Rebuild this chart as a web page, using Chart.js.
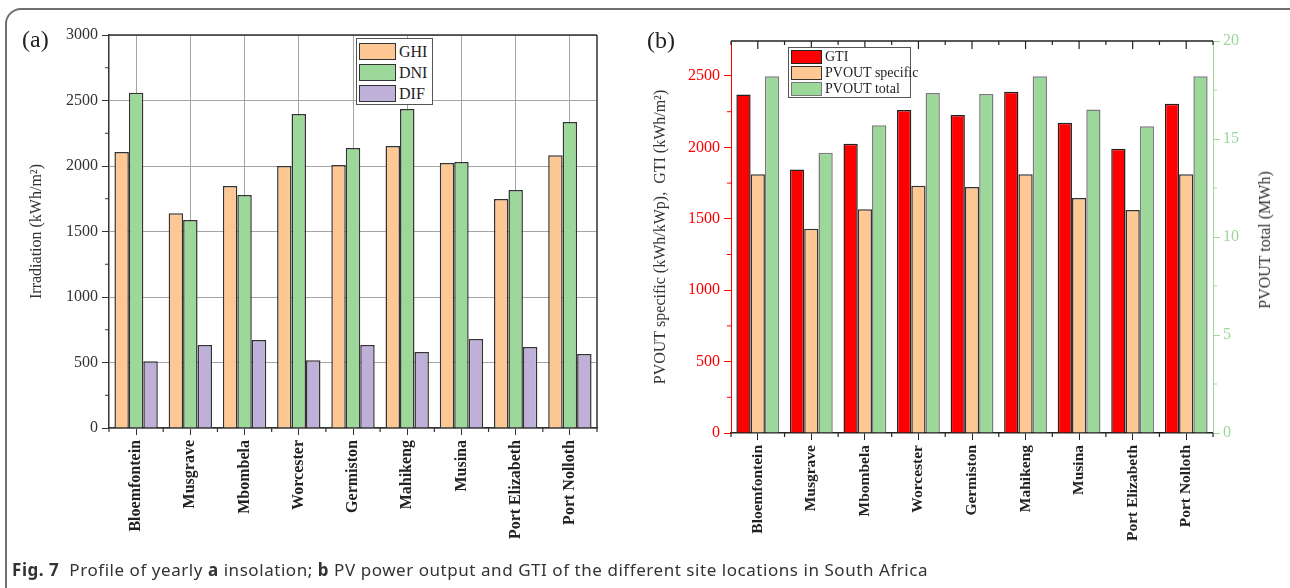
<!DOCTYPE html>
<html lang="en">
<head>
<meta charset="UTF-8">
<title>Fig. 7 - yearly insolation and PV output</title>
<style>
  body { margin:0; background:#fff; width:1290px; height:588px; overflow:hidden; position:relative; font-family:"Liberation Serif", serif; }
  .box { position:absolute; left:5px; top:8px; width:1300px; height:620px; border:2px solid #6f6f6f; border-radius:16px; }
  canvas { position:absolute; top:0; }
  #chartA { left:0; }
  #chartB { left:640px; }
  .panel { position:absolute; font-size:24px; color:#222; line-height:1; }
  .legend { position:absolute; background:#fff; border:1.5px solid #555; color:#222; box-sizing:border-box; white-space:nowrap; }
  .legend .row { display:flex; align-items:center; }
  .legend .sw { display:inline-block; flex:none; box-sizing:border-box; border:1.5px solid #333; margin:0 3px 0 2px; }
  .rtitle { position:absolute; left:1265px; top:240px; transform:translate(-50%,-50%) rotate(-90deg); white-space:nowrap; font-size:16px; color:#333; }
  .caption { position:absolute; left:12px; top:558px; font-family:"Noto Sans", sans-serif; font-size:17px; letter-spacing:0.55px; color:#333; white-space:nowrap; }
</style>
</head>
<body>
<div class="box"></div>
<canvas id="chartA" width="640" height="560"></canvas>
<canvas id="chartB" width="650" height="560"></canvas>
<div class="panel" style="left:22px; top:27px;">(a)</div>
<div class="panel" style="left:647px; top:28px;">(b)</div>
<div class="legend" id="legendA" style="left:356px; top:38px; width:77px; height:67px; padding-top:2px; font-size:16px; line-height:21px;"></div>
<div class="legend" id="legendB" style="left:788px; top:47px; width:123px; height:51px; padding-top:1px; font-size:14px; line-height:16px;"></div>
<div class="rtitle">PVOUT total (MWh)</div>
<div class="caption"><b>Fig. 7</b>&nbsp; Profile of yearly <b>a</b> insolation; <b>b</b> PV power output and GTI of the different site locations in South Africa</div>

<script src="https://cdn.jsdelivr.net/npm/chart.js"></script>
<script>
  // site names on both x axes
  const sites = ['Bloemfontein', 'Musgrave', 'Mbombela', 'Worcester', 'Germiston', 'Mahikeng', 'Musina', 'Port Elizabeth', 'Port Nolloth'];

  // (a) yearly irradiation, kWh/m2
  const ghi = [2107, 1640, 1847, 2000, 2007, 2152, 2022, 1748, 2083];
  const dni = [2560, 1588, 1779, 2397, 2137, 2435, 2031, 1817, 2336];
  const dif = [510, 634, 672, 518, 634, 580, 679, 618, 565];

  // (b) GTI and PV output
  const gti = [2370, 1845, 2025, 2262, 2226, 2390, 2173, 1990, 2305];
  const pvSpecific = [1812, 1430, 1566, 1732, 1722, 1812, 1645, 1562, 1812];
  const pvTotal = [18.2, 14.3, 15.7, 17.35, 17.3, 18.2, 16.5, 15.65, 18.2];

  // left axis of (b) stops at 2745 so that it lines up with 20 MWh on the right
  const bLeftTicks = [0, 500, 1000, 1500, 2000, 2500];

  const peach = '#fdc894', green = '#9dd89b', lilac = '#bfb0da', red = '#ff0000';
  const serif = '"Liberation Serif", serif';

  Chart.defaults.font.family = serif;
  Chart.defaults.font.size = 16;

  // top/right frame + minor ticks
  const frameLines = {
    id: 'frameLines',
    afterDatasetsDraw(chart, args, opts) {
      const { ctx, chartArea: a } = chart;
      ctx.save();
      ctx.lineWidth = 1.5;
      ctx.strokeStyle = opts.color;
      ctx.beginPath();
      ctx.moveTo(a.left, a.top); ctx.lineTo(a.right, a.top);
      if (opts.right) { ctx.moveTo(a.right, a.top); ctx.lineTo(a.right, a.bottom); }
      ctx.stroke();

      const x = chart.scales.x;
      const half = (x.getPixelForValue(1) - x.getPixelForValue(0)) / 2;
      ctx.lineWidth = 1.2;
      ctx.beginPath();
      for (let i = 0; i <= sites.length; i++) {
        const px = x.getPixelForValue(i) - half;
        ctx.moveTo(px, a.bottom); ctx.lineTo(px, a.bottom + 4);
        if (opts.topTicks) { ctx.moveTo(px, a.top); ctx.lineTo(px, a.top + 4); }
      }
      if (opts.topTicks) {
        for (let i = 0; i < sites.length; i++) {
          const px = x.getPixelForValue(i);
          ctx.moveTo(px, a.top); ctx.lineTo(px, a.top + 8);
        }
      }
      ctx.stroke();

      (opts.yMinor || []).forEach(m => {
        const s = chart.scales[m.id];
        ctx.strokeStyle = m.color;
        ctx.lineWidth = 1;
        ctx.beginPath();
        for (let v = m.step / 2; v < s.max; v += m.step) {
          const py = s.getPixelForValue(v);
          if (m.side === 'left') { ctx.moveTo(a.left - 4, py); ctx.lineTo(a.left, py); }
          else { ctx.moveTo(a.right, py); ctx.lineTo(a.right + 4, py); }
        }
        ctx.stroke();
      });
      ctx.restore();
    }
  };

  const xLabels = size => ({ autoSkip: false, minRotation: 90, maxRotation: 90, padding: 5, color: '#222', font: { family: serif, size: size, weight: 'bold' } });
  const plain = v => String(v);

  const chartA = new Chart(document.getElementById('chartA'), {
    type: 'bar',
    data: {
      labels: sites,
      datasets: [
        { label: 'GHI', data: ghi, backgroundColor: peach, borderColor: '#333', borderWidth: 1.5 },
        { label: 'DNI', data: dni, backgroundColor: green, borderColor: '#333', borderWidth: 1.5 },
        { label: 'DIF', data: dif, backgroundColor: lilac, borderColor: '#333', borderWidth: 1.5 }
      ]
    },
    options: {
      responsive: false,
      animation: false,
      devicePixelRatio: 1,
      categoryPercentage: 0.8,
      barPercentage: 1.0,
      layout: { padding: { left: 0, top: 35, right: 43, bottom: 0 } },
      plugins: {
        legend: { display: false },
        tooltip: { enabled: false },
        frameLines: { color: '#333', right: true, topTicks: false, yMinor: [{ id: 'y', step: 500, side: 'left', color: '#333' }] }
      },
      scales: {
        x: {
          grid: { offset: false, color: '#a5a5a5', tickColor: '#333', tickLength: 7 },
          border: { color: '#333', width: 1.5 },
          ticks: xLabels(16),
          afterFit: s => { s.height = 132; }
        },
        y: {
          min: 0, max: 3000,
          ticks: { stepSize: 500, padding: 4, color: '#333', font: { family: serif, size: 16 }, callback: plain },
          grid: { color: '#a5a5a5', tickColor: '#333', tickLength: 7 },
          border: { color: '#333', width: 1.5 },
          title: { display: true, text: 'Irradiation (kWh/m²)', color: '#333', font: { family: serif, size: 16 }, padding: { top: 27 } },
          afterFit: s => { s.width = 109; }
        }
      }
    },
    plugins: [frameLines]
  });

  const chartB = new Chart(document.getElementById('chartB'), {
    type: 'bar',
    data: {
      labels: sites,
      datasets: [
        { label: 'GTI', data: gti, yAxisID: 'y', backgroundColor: red, borderColor: '#222', borderWidth: 1.5 },
        { label: 'PVOUT specific', data: pvSpecific, yAxisID: 'y', backgroundColor: peach, borderColor: '#333', borderWidth: 1.5 },
        { label: 'PVOUT total', data: pvTotal, yAxisID: 'y1', backgroundColor: green, borderColor: '#7a7a7a', borderWidth: 1.5 }
      ]
    },
    options: {
      responsive: false,
      animation: false,
      devicePixelRatio: 1,
      categoryPercentage: 0.8,
      barPercentage: 1.0,
      layout: { padding: { left: 0, top: 41, right: 0, bottom: 0 } },
      plugins: {
        legend: { display: false },
        tooltip: { enabled: false },
        frameLines: {
          color: '#222', right: false, topTicks: true,
          yMinor: [
            { id: 'y', step: 500, side: 'left', color: red },
            { id: 'y1', step: 5, side: 'right', color: green }
          ]
        }
      },
      scales: {
        x: {
          grid: { offset: false, drawOnChartArea: false, tickColor: '#222', tickLength: 7 },
          border: { color: '#222', width: 1.5 },
          ticks: xLabels(15.5),
          afterFit: s => { s.height = 127; }
        },
        y: {
          position: 'left',
          min: 0, max: 2745,
          afterBuildTicks: s => { s.ticks = bLeftTicks.map(v => ({ value: v })); },
          ticks: { padding: 4, color: red, autoSkip: false, font: { family: serif, size: 16 }, callback: plain },
          grid: { drawOnChartArea: false, tickColor: red, tickLength: 7 },
          border: { color: red, width: 1 },
          title: { display: true, text: 'PVOUT specific (kWh/kWp),  GTI (kWh/m²)', color: '#333', font: { family: serif, size: 16 }, padding: { top: 11 } },
          afterFit: s => { s.width = 91; }
        },
        y1: {
          position: 'right',
          min: 0, max: 20,
          ticks: { stepSize: 5, padding: 3, color: green, font: { family: serif, size: 16 }, callback: plain },
          grid: { drawOnChartArea: false, tickColor: green, tickLength: 7 },
          border: { color: green, width: 1 },
          afterFit: s => { s.width = 77; }
        }
      }
    },
    plugins: [frameLines]
  });

  // legends inside the plots, built from the datasets
  function buildLegend(el, chart, sw) {
    chart.data.datasets.forEach(ds => {
      const row = document.createElement('div');
      row.className = 'row';
      row.style.height = sw.row + 'px';
      const box = document.createElement('span');
      box.className = 'sw';
      box.style.width = sw.w + 'px';
      box.style.height = sw.h + 'px';
      box.style.background = ds.backgroundColor;
      box.style.borderColor = ds.borderColor;
      const txt = document.createElement('span');
      txt.textContent = ds.label;
      row.appendChild(box);
      row.appendChild(txt);
      el.appendChild(row);
    });
  }
  buildLegend(document.getElementById('legendA'), chartA, { w: 37, h: 17, row: 21 });
  buildLegend(document.getElementById('legendB'), chartB, { w: 31, h: 14, row: 16 });
</script>
</body>
</html>
